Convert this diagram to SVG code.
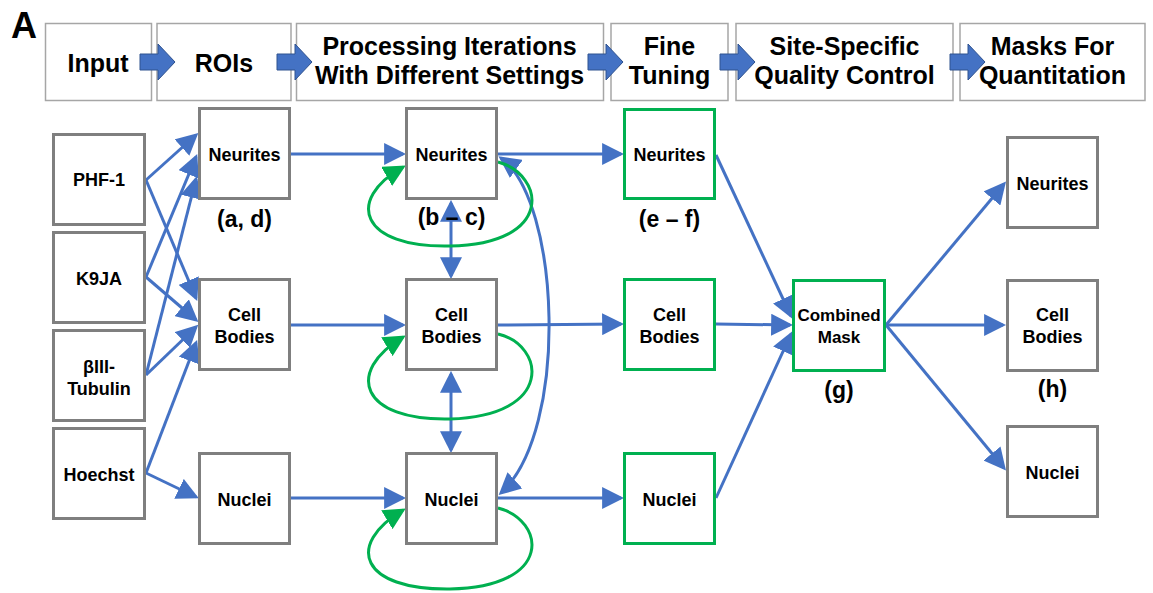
<svg xmlns="http://www.w3.org/2000/svg" width="1153" height="593" viewBox="0 0 1153 593">
<defs>
<style>
text{font-family:"Liberation Sans",Arial,Helvetica,sans-serif;font-weight:bold;fill:#000;text-anchor:middle}
.h{font-size:25px}
.n{font-size:18px}
.l{font-size:23px}
.hb{fill:#fff;stroke:#A6A6A6;stroke-width:1.5}
.gb{fill:#fff;stroke:#7F7F7F;stroke-width:3}
.grb{fill:#fff;stroke:#00B050;stroke-width:3}
.ba{fill:#4472C4;stroke:#2F528F;stroke-width:1}
.c{fill:none;stroke:#4472C4;stroke-width:3;marker-end:url(#ab)}
.d{fill:none;stroke:#4472C4;stroke-width:3;marker-end:url(#ab);marker-start:url(#ab)}
.g{fill:none;stroke:#00B050;stroke-width:3;marker-end:url(#ag)}
</style>
<marker id="ab" markerUnits="userSpaceOnUse" markerWidth="22" markerHeight="22" refX="18" refY="10.5" orient="auto-start-reverse" viewBox="0 0 21 21">
<path d="M0,0 L21,10.5 L0,21 z" fill="#4472C4"/>
</marker>
<marker id="ag" markerUnits="userSpaceOnUse" markerWidth="22" markerHeight="22" refX="18" refY="10.5" orient="auto" viewBox="0 0 21 21">
<path d="M0,0 L21,10.5 L0,21 z" fill="#00B050"/>
</marker>
<path id="blk" d="M0,-8 H18 V-18 L35,0 L18,18 V8 H0 Z"/>
</defs>
<rect width="1153" height="593" fill="#fff"/>
<text x="24" y="38" style="font-size:36px">A</text>

<g id="header">
<g id="h-input"><rect class="hb" x="45.5" y="23.5" width="106" height="77"/><text class="h" x="98" y="72">Input</text></g>
<g id="h-rois"><rect class="hb" x="157" y="23.5" width="134" height="77"/><text class="h" x="224" y="72">ROIs</text></g>
<g id="h-proc"><rect class="hb" x="296.5" y="23.5" width="307" height="77"/><text class="h" x="449.5" y="55">Processing Iterations</text><text class="h" x="449.5" y="84">With Different Settings</text></g>
<g id="h-fine"><rect class="hb" x="611" y="23.5" width="117" height="77"/><text class="h" x="669.5" y="55">Fine</text><text class="h" x="669.5" y="84">Tuning</text></g>
<g id="h-site"><rect class="hb" x="736" y="23.5" width="217" height="77"/><text class="h" x="844.5" y="55">Site-Specific</text><text class="h" x="844.5" y="84">Quality Control</text></g>
<g id="h-masks"><rect class="hb" x="960" y="23.5" width="185" height="77"/><text class="h" x="1052.5" y="55">Masks For</text><text class="h" x="1052.5" y="84">Quantitation</text></g>
</g>

<g id="header-arrows">
<use href="#blk" class="ba" x="140" y="62"/>
<use href="#blk" class="ba" x="277" y="62"/>
<use href="#blk" class="ba" x="588" y="62"/>
<use href="#blk" class="ba" x="720" y="62"/>
<use href="#blk" class="ba" x="950" y="62"/>
</g>

<g id="connectors">
<path class="c" d="M146,180 L196,135"/>
<path class="c" d="M146,180 L196,298"/>
<path class="c" d="M146,277 L196,157"/>
<path class="c" d="M146,277 L196,320"/>
<path class="c" d="M146,375 L196,179"/>
<path class="c" d="M146,375 L196,327"/>
<path class="c" d="M146,473 L196,343"/>
<path class="c" d="M146,473 L196,497"/>
<path class="c" d="M291,154 L403,154"/>
<path class="c" d="M291,325 L403,325"/>
<path class="c" d="M291,498 L403,498"/>
<path class="c" d="M498,154 L621,154"/>
<path class="c" d="M498,325 L621,324"/>
<path class="c" d="M498,498 L621,498"/>
<path class="d" d="M451,203 L451,276"/>
<path class="d" d="M451,374 L451,450"/>
<path class="d" d="M501,158 C560,200 570,430 501,493"/>
<path class="c" d="M716,155 L791,316"/>
<path class="c" d="M716,324 L790,325"/>
<path class="c" d="M716,498 L791,334"/>
<path class="c" d="M886,325 L1004,184"/>
<path class="c" d="M886,325 L1003,325"/>
<path class="c" d="M886,325 L1004,468"/>
<path class="g" d="M498,162 C545,175 555,244 450,246 C360,248 345,200 403,167"/>
<path class="g" d="M498,334 C545,345 555,416 450,419 C360,421 345,372 403,337"/>
<path class="g" d="M498,508 C545,520 555,587 450,589 C360,590 345,545 403,510"/>
</g>

<g id="n-phf1"><rect class="gb" x="53.5" y="134.5" width="91" height="90"/><text class="n" x="99" y="186">PHF-1</text></g>
<g id="n-k9ja"><rect class="gb" x="53.5" y="232.5" width="91" height="90"/><text class="n" x="99" y="285">K9JA</text></g>
<g id="n-tubulin"><rect class="gb" x="53.5" y="330.5" width="91" height="90"/><text class="n" x="99" y="373">βIII-</text><text class="n" x="99" y="395">Tubulin</text></g>
<g id="n-hoechst"><rect class="gb" x="53.5" y="428.5" width="91" height="90"/><text class="n" x="99" y="481">Hoechst</text></g>

<g id="n-roi-neurites"><rect class="gb" x="199.5" y="108.5" width="90" height="90"/><text class="n" x="244.5" y="161">Neurites</text></g>
<g id="n-roi-cell"><rect class="gb" x="199.5" y="279.5" width="90" height="90"/><text class="n" x="244.5" y="321">Cell</text><text class="n" x="244.5" y="343">Bodies</text></g>
<g id="n-roi-nuclei"><rect class="gb" x="199.5" y="453.5" width="90" height="90"/><text class="n" x="244.5" y="506">Nuclei</text></g>
<text class="l" x="244.5" y="227">(a, d)</text>

<g id="n-proc-neurites"><rect class="gb" x="406.5" y="108.5" width="90" height="90"/><text class="n" x="451.5" y="161">Neurites</text></g>
<g id="n-proc-cell"><rect class="gb" x="406.5" y="279.5" width="90" height="90"/><text class="n" x="451.5" y="321">Cell</text><text class="n" x="451.5" y="343">Bodies</text></g>
<g id="n-proc-nuclei"><rect class="gb" x="406.5" y="453.5" width="90" height="90"/><text class="n" x="451.5" y="506">Nuclei</text></g>
<text class="l" x="451.5" y="225">(b – c)</text>

<g id="n-fine-neurites"><rect class="grb" x="624.5" y="109.5" width="90" height="89"/><text class="n" x="669.5" y="161">Neurites</text></g>
<g id="n-fine-cell"><rect class="grb" x="624.5" y="279.5" width="90" height="90"/><text class="n" x="669.5" y="321">Cell</text><text class="n" x="669.5" y="343">Bodies</text></g>
<g id="n-fine-nuclei"><rect class="grb" x="624.5" y="453.5" width="90" height="90"/><text class="n" x="669.5" y="506">Nuclei</text></g>
<text class="l" x="669.5" y="227">(e – f)</text>

<g id="n-combined"><rect class="grb" x="793.5" y="280.5" width="91" height="90"/><text class="n" x="839" y="321" style="font-size:17px">Combined</text><text class="n" x="839" y="343" style="font-size:17px">Mask</text></g>
<text class="l" x="839" y="398">(g)</text>

<g id="n-out-neurites"><rect class="gb" x="1007.5" y="137.5" width="90" height="90"/><text class="n" x="1052.5" y="190">Neurites</text></g>
<g id="n-out-cell"><rect class="gb" x="1007.5" y="280.5" width="90" height="90"/><text class="n" x="1052.5" y="321">Cell</text><text class="n" x="1052.5" y="343">Bodies</text></g>
<g id="n-out-nuclei"><rect class="gb" x="1007.5" y="426.5" width="90" height="90"/><text class="n" x="1052.5" y="479">Nuclei</text></g>
<text class="l" x="1052.5" y="397">(h)</text>
</svg>
